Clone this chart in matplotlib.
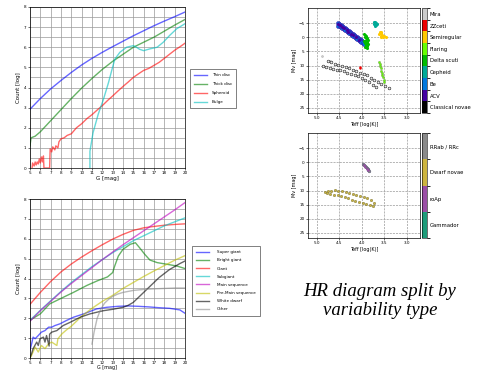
import numpy as np
import matplotlib
matplotlib.use("Agg")
import matplotlib.pyplot as plt
from matplotlib.colors import ListedColormap, BoundaryNorm
import matplotlib.colorbar as mcolorbar

# ---------------- data: top-left (galactic populations) ----------------
thin_g = [5, 6, 7, 8, 9, 10, 11, 12, 13, 14, 15, 16, 17, 18, 19, 20]
thin_v = [2.92, 3.45, 3.93, 4.35, 4.75, 5.12, 5.45, 5.75, 6.03, 6.3, 6.57, 6.82, 7.07, 7.3, 7.52, 7.75]

thick_g = [5.0, 5.1, 5.5, 6, 7, 8, 9, 10, 11, 12, 13, 14, 15, 16, 17, 18, 19, 20]
thick_v = [1.1, 1.5, 1.58, 1.8, 2.35, 2.9, 3.45, 3.97, 4.45, 4.9, 5.3, 5.65, 6.0, 6.25, 6.5, 6.8, 7.1, 7.38]

sph_g = [5.2, 5.25, 5.4, 5.5, 5.6, 5.7, 5.8, 5.9, 6.0, 6.1, 6.2, 6.3, 6.35, 6.9, 6.95, 7.1, 7.2,
         7.4, 7.5, 7.7, 7.8, 8.0, 8.3, 8.6, 9.0, 9.5, 10.0, 10.5, 11.0, 11.5, 12.0, 12.5, 13.0,
         13.5, 14.0, 14.5, 15.0, 15.5, 16.0, 16.5, 17.0, 17.5, 18.0, 18.5, 19.0, 19.5, 20.0]
sph_v = [0.0, 0.25, 0.1, 0.3, 0.15, 0.3, 0.2, 0.45, 0.25, 0.55, 0.3, 0.6, 0.0, 0.0, 0.95, 0.8, 1.05,
         0.9, 1.1, 1.0, 1.3, 1.45, 1.5, 1.62, 1.7, 2.0, 2.2, 2.45, 2.65, 2.88, 3.1, 3.35, 3.58,
         3.82, 4.05, 4.27, 4.5, 4.68, 4.85, 4.95, 5.1, 5.25, 5.45, 5.65, 5.85, 6.02, 6.2]

bulge_g = [10.8, 10.8, 11.1, 11.6, 12.1, 12.6, 12.9, 13.2, 13.7, 14.35, 15.0, 15.3, 15.6, 16.0,
           16.6, 17.3, 17.9, 18.5, 19.2, 20.0]
bulge_v = [0.0, 0.83, 1.75, 2.67, 3.4, 4.25, 4.83, 5.4, 5.75, 6.0, 6.08, 6.0, 5.9, 5.83,
           5.92, 6.0, 6.25, 6.58, 6.92, 7.17]

pop_labels = ["Thin disc", "Thick disc", "Spheroid", "Bulge"]

# ---------------- data: bottom-left (luminosity classes) ----------------
sg_g = [5.0, 5.16, 5.3, 5.5, 5.8, 6.1, 6.45, 6.8, 7.1, 7.4, 7.9, 8.5, 9.2, 10.2, 11.45, 12.4,
        13.5, 14.5, 15.5, 16.5, 17.5, 18.5, 19.5, 20.0]
sg_v = [0.4, 0.72, 1.05, 0.97, 1.13, 1.3, 1.38, 1.55, 1.55, 1.63, 1.72, 1.88, 2.05, 2.22, 2.47, 2.55,
        2.6, 2.62, 2.6, 2.57, 2.53, 2.5, 2.42, 2.25]

bg_g = [5.0, 6.0, 6.9, 8.2, 9.2, 10.5, 11.5, 12.5, 13.0, 13.2, 13.55, 14.0, 14.7, 15.2, 15.6,
        16.1, 16.6, 17.3, 18.2, 19.2, 20.0]
bg_v = [1.9, 2.22, 2.72, 3.05, 3.3, 3.65, 3.88, 4.08, 4.3, 4.63, 5.13, 5.47, 5.72, 5.8, 5.55,
        5.22, 4.93, 4.8, 4.72, 4.63, 4.5]

giant_g = [5, 6, 7, 8, 9, 10, 11, 12, 13, 14, 15, 16, 17, 18, 19, 20]
giant_v = [2.7, 3.3, 3.85, 4.33, 4.73, 5.08, 5.4, 5.7, 5.98, 6.22, 6.42, 6.55, 6.62, 6.68, 6.72, 6.75]

sub_g = [5, 6, 7, 8, 9, 10, 11, 12, 13, 14, 15, 16, 17, 18, 19, 20]
sub_v = [1.9, 2.4, 2.88, 3.35, 3.8, 4.2, 4.6, 4.95, 5.3, 5.6, 5.9, 6.15, 6.4, 6.65, 6.85, 7.05]

ms_g = [5, 6, 7, 8, 9, 10, 11, 12, 13, 14, 15, 16, 17, 18, 19, 20]
ms_v = [1.85, 2.38, 2.85, 3.32, 3.75, 4.15, 4.55, 4.95, 5.33, 5.7, 6.05, 6.4, 6.75, 7.1, 7.45, 7.82]

pms_g = [5.0, 5.15, 5.5, 5.8, 6.1, 6.45, 6.8, 7.1, 7.6, 7.7, 8.1, 8.5, 9, 9.5, 10, 11, 12, 13,
         14, 15, 16, 17, 18, 19, 20]
pms_v = [0.0, 0.13, 0.55, 0.3, 0.63, 0.47, 0.72, 0.8, 0.63, 0.97, 1.22, 1.4, 1.6, 1.85, 2.1, 2.5,
         2.85, 3.15, 3.5, 3.8, 4.1, 4.38, 4.65, 4.92, 5.15]

wd_g = [5.0, 5.15, 5.3, 5.65, 5.8, 5.97, 6.3, 6.45, 6.6, 6.85, 6.9, 7.1, 7.6, 8.2, 8.9, 9.85,
        10.8, 12.1, 13.0, 14.0, 14.5, 15.0, 15.5, 16.0, 16.5, 17.0, 17.5, 18.0, 18.5, 19.0, 19.5, 20.0]
wd_v = [0.0, 0.22, 0.47, 0.8, 0.63, 0.97, 1.05, 0.8, 1.13, 0.6, 1.2, 1.3, 1.38, 1.63, 1.8, 2.05,
        2.22, 2.38, 2.45, 2.55, 2.65, 2.8, 3.05, 3.3, 3.55, 3.8, 4.05, 4.25, 4.45, 4.6, 4.75, 4.88]

oth_g = [11.0, 11.2, 11.5, 11.8, 12.2, 12.6, 13.0, 13.5, 14, 15, 16, 17, 18, 19, 20]
oth_v = [0.7, 1.3, 2.0, 2.4, 2.75, 2.95, 3.1, 3.22, 3.3, 3.4, 3.45, 3.48, 3.5, 3.52, 3.52]

cls_labels = ["Super giant", "Bright giant", "Giant", "Subgiant", "Main sequence",
              "Pre-Main sequence", "White dwarf", "Other"]

# ---------------- data: top-right HR diagram ----------------
var1_labels = ["Classical novae", "ACV", "Be", "Cepheid", "Delta scuti", "Flaring",
               "Semiregular", "ZZceti", "Mira"]

be_teff = [4.53, 4.50, 4.47, 4.44, 4.41, 4.38, 4.35, 4.32, 4.29, 4.26, 4.23, 4.20, 4.17, 4.14,
           4.11, 4.08, 4.05, 4.02, 3.99, 3.96,
           4.52, 4.49, 4.46, 4.43, 4.40, 4.37, 4.34, 4.31, 4.28, 4.25, 4.22, 4.19, 4.16, 4.13,
           4.10, 4.07, 4.04, 4.01, 3.98, 3.95]
be_mv = [-5.0, -4.7, -4.4, -4.0, -3.7, -3.3, -3.0, -2.6, -2.3, -1.9, -1.6, -1.2, -0.9, -0.5,
         -0.2, 0.2, 0.5, 0.9, 1.2, 1.6,
         -4.2, -3.9, -3.6, -3.2, -2.9, -2.5, -2.2, -1.8, -1.5, -1.1, -0.8, -0.4, -0.1, 0.3,
         0.6, 1.0, 1.3, 1.7, 2.1, 2.5]
acv_teff = [4.52, 4.48, 4.45, 4.40, 4.34, 4.30, 4.24, 4.20, 4.12, 4.06]
acv_mv = [-4.6, -4.3, -3.8, -3.3, -2.5, -2.0, -1.3, -0.9, 0.0, 0.8]
ds_teff = [3.95, 3.92, 3.90, 3.93, 3.89, 3.91, 3.87, 3.94, 3.88, 3.92, 3.86, 3.90, 3.88, 3.93, 3.89]
ds_mv = [-1.2, -1.0, -0.6, 0.0, 0.3, 0.8, 1.0, 1.3, 1.6, 2.0, 2.2, 2.6, 3.0, 3.3, 3.8]
ceph_teff = [3.72, 3.70, 3.68, 3.71, 3.69, 3.73, 3.67, 3.70]
ceph_mv = [-5.3, -5.5, -5.0, -4.6, -4.3, -4.9, -4.7, -4.0]
sr_teff = [3.60, 3.58, 3.56, 3.55, 3.58, 3.53, 3.61, 3.56, 3.50, 3.47]
sr_mv = [-2.0, -1.5, -1.8, -1.0, -0.6, -0.3, -1.2, -0.2, -0.4, -0.3]
fl_teff = [3.61, 3.60, 3.59, 3.58, 3.57, 3.55, 3.54, 3.53, 3.51, 3.50]
fl_mv = [8.8, 9.5, 10.3, 11.0, 11.8, 12.6, 13.4, 14.2, 15.0, 15.7]
zz_teff = [4.05, 4.03]
zz_mv = [10.6, 10.9]
mira_teff = [4.89, 4.70]
mira_mv = [6.5, 8.3]
cn_teff = [4.76, 4.68, 4.60, 4.52, 4.44, 4.36, 4.28, 4.20, 4.12, 4.04, 3.96, 3.88, 3.80, 3.72,
           3.64, 3.56, 3.48, 3.40,
           4.87, 4.80, 4.72, 4.64, 4.56, 4.48, 4.40, 4.32, 4.24, 4.16, 4.08, 4.00, 3.92, 3.84,
           3.76, 3.68]
cn_mv = [8.2, 8.8, 9.3, 9.8, 10.2, 10.6, 11.0, 11.5, 12.0, 12.5, 13.0, 13.5, 14.3, 15.0,
         15.7, 16.5, 17.2, 17.8,
         10.0, 10.4, 10.8, 11.1, 11.4, 11.7, 12.0, 12.5, 12.9, 13.3, 13.8, 14.4, 15.1, 15.9,
         16.8, 17.6]

# ---------------- data: bottom-right HR diagram ----------------
var2_labels = ["Gammador", "roAp", "Dwarf novae", "RRab / RRc"]
var2_colors = ["#1e9c7a", "#9b4fa6", "#cdb540", "#8a8a8a"]

rr_teff = [3.97, 3.95, 3.93, 3.91, 3.89, 3.87, 3.85, 3.83]
rr_mv = [0.6, 1.0, 1.3, 1.7, 2.0, 2.4, 2.7, 3.1]
roap_teff = [3.96, 3.92, 3.88, 3.85]
roap_mv = [0.9, 1.5, 2.2, 2.8]
dn_teff = [4.82, 4.75, 4.68, 4.60, 4.52, 4.44, 4.36, 4.28, 4.20, 4.12, 4.04, 3.96, 3.88, 3.80, 3.72,
           4.78, 4.70, 4.62, 4.54, 4.46, 4.38, 4.30, 4.22, 4.14, 4.06, 3.98, 3.90, 3.82, 3.75]
dn_mv = [10.5, 10.2, 10.0, 9.9, 10.0, 10.2, 10.5, 10.8, 11.1, 11.5, 11.9, 12.3, 12.8, 13.5, 14.5,
         11.0, 11.2, 11.4, 11.7, 12.0, 12.4, 12.8, 13.2, 13.6, 14.0, 14.4, 14.8, 15.2, 15.5]

# ---------------- figure ----------------
W, H = 485, 371
fig = plt.figure(figsize=(W / 100, H / 100), dpi=100)


def px_axes(x0, y0, x1, y1):
    return fig.add_axes([x0 / W, 1 - y1 / H, (x1 - x0) / W, (y1 - y0) / H])


TICK = dict(labelsize=3, length=1.5, width=0.4, pad=1)


def style_count_axes(ax, xlab_pad=0.5, xlab_size=4):
    ax.set_xlim(5, 20)
    ax.set_ylim(0, 8)
    ax.set_xticks(range(5, 21))
    ax.set_yticks(range(0, 9))
    ax.set_yticks(np.arange(0.5, 8, 1.0), minor=True)
    ax.grid(True, which="both", color="0.6", lw=0.5)
    ax.tick_params(which="major", **TICK)
    ax.tick_params(which="minor", length=0)
    for s in ax.spines.values():
        s.set_linewidth(0.5)
    ax.set_ylabel("Count [log]", fontsize=4, labelpad=2)
    ax.set_xlabel("G [mag]", fontsize=xlab_size, labelpad=xlab_pad)


# top-left
ax1 = px_axes(30, 7, 185, 168)
ax1.plot(thin_g, thin_v, color="b", alpha=0.6, lw=1.0, label=pop_labels[0])
ax1.plot(thick_g, thick_v, color="g", alpha=0.6, lw=1.0, label=pop_labels[1])
ax1.plot(sph_g, sph_v, color="r", alpha=0.6, lw=1.0, label=pop_labels[2])
ax1.plot(bulge_g, bulge_v, color="c", alpha=0.6, lw=1.0, label=pop_labels[3])
style_count_axes(ax1)
leg1 = ax1.legend(loc="upper left", bbox_to_anchor=(188 / W, 1 - 67 / H),
                  bbox_transform=fig.transFigure, fontsize=3, handlelength=3,
                  labelspacing=1.2, borderpad=1.0, handletextpad=1.2, fancybox=False,
                  framealpha=1)
leg1.get_frame().set_linewidth(0.5)
leg1.get_frame().set_edgecolor("0.3")

# bottom-left
ax2 = px_axes(30, 199, 185, 358)
ax2.plot(sg_g, sg_v, color="b", alpha=0.6, lw=1.0, label=cls_labels[0])
ax2.plot(bg_g, bg_v, color="g", alpha=0.6, lw=1.0, label=cls_labels[1])
ax2.plot(giant_g, giant_v, color="r", alpha=0.6, lw=1.0, label=cls_labels[2])
ax2.plot(sub_g, sub_v, color="c", alpha=0.6, lw=1.0, label=cls_labels[3])
ax2.plot(ms_g, ms_v, color="m", alpha=0.6, lw=1.0, label=cls_labels[4])
ax2.plot(pms_g, pms_v, color="y", alpha=0.6, lw=1.0, label=cls_labels[5])
ax2.plot(wd_g, wd_v, color="k", alpha=0.6, lw=1.0, label=cls_labels[6])
ax2.plot(oth_g, oth_v, color="0.55", alpha=0.6, lw=1.0, label=cls_labels[7])
style_count_axes(ax2, xlab_pad=0, xlab_size=3.5)
ax2.tick_params(axis="x", pad=0.5)
leg2 = ax2.legend(loc="upper left", bbox_to_anchor=(190 / W, 1 - 244 / H),
                  bbox_transform=fig.transFigure, fontsize=3, handlelength=3,
                  labelspacing=1.0, borderpad=1.0, handletextpad=2.0, fancybox=False,
                  framealpha=1)
leg2.get_frame().set_linewidth(0.5)
leg2.get_frame().set_edgecolor("0.3")


def style_hr(ax):
    ax.set_xlim(5.2, 2.7)
    ax.set_ylim(26.8, -10.4)
    ax.set_xticks([5.0, 4.5, 4.0, 3.5, 3.0])
    ax.set_xticklabels(["5.0", "4.5", "4.0", "3.5", "3.0"])
    ax.set_yticks([-5, 0, 5, 10, 15, 20, 25])
    ax.grid(True, color="0.6", lw=0.5, ls=(0, (3, 1.5)))
    ax.tick_params(**TICK)
    for s in ax.spines.values():
        s.set_linewidth(0.5)
    ax.set_xlabel("Teff [log(K)]", fontsize=3.5, labelpad=1)
    ax.set_ylabel("Mv [mag]", fontsize=3.5, labelpad=1)


# top-right HR
cmap1 = plt.get_cmap("nipy_spectral")
cols1 = [cmap1(i / 8) for i in range(9)]
ax3 = px_axes(308, 8, 420, 113)
style_hr(ax3)
ax3.scatter(mira_teff, mira_mv, s=2, color=cols1[8], edgecolors="0.5", lw=0.2, zorder=3)
ax3.scatter(cn_teff, cn_mv, s=4, facecolor="0.92", edgecolors="k", lw=0.35, zorder=3)
ax3.scatter(be_teff, be_mv, s=9, color=cols1[2], edgecolors=cols1[1], lw=0.3, zorder=3)
ax3.scatter(acv_teff, acv_mv, s=5, color=cols1[1], lw=0, zorder=4)
ax3.scatter(ds_teff, ds_mv, s=5, color=cols1[4], lw=0, zorder=4)
ax3.scatter(ceph_teff, ceph_mv, s=5, color=cols1[3], lw=0, zorder=4)
ax3.scatter(sr_teff, sr_mv, s=5, color=cols1[6], lw=0, zorder=4)
ax3.scatter(fl_teff, fl_mv, s=3, color=cols1[5], edgecolors="0.4", lw=0.2, zorder=4)
ax3.scatter(zz_teff, zz_mv, s=3, color=cols1[7], lw=0, zorder=4)

cax1 = px_axes(422, 8, 427, 113)
cm1 = ListedColormap(cols1)
nm1 = BoundaryNorm(np.arange(-0.5, 9.5, 1), 9)
cb1 = mcolorbar.ColorbarBase(cax1, cmap=cm1, norm=nm1, ticks=range(9))
cb1.set_ticklabels(var1_labels)
cb1.ax.tick_params(labelsize=3.8, length=0, pad=2)
cb1.outline.set_linewidth(0.4)

# bottom-right HR
ax4 = px_axes(308, 133, 420, 238)
style_hr(ax4)
ax4.scatter(dn_teff, dn_mv, s=3, color=var2_colors[2], edgecolors="#6b6420", lw=0.3, zorder=3)
ax4.scatter(rr_teff, rr_mv, s=4, color=var2_colors[3], edgecolors="#444466", lw=0.3, zorder=3)
ax4.scatter(roap_teff, roap_mv, s=3, color=var2_colors[1], lw=0, zorder=4)

cax2 = px_axes(422, 133, 427, 238)
cm2 = ListedColormap(var2_colors)
nm2 = BoundaryNorm(np.arange(-0.5, 4.5, 1), 4)
cb2 = mcolorbar.ColorbarBase(cax2, cmap=cm2, norm=nm2, ticks=range(4))
cb2.set_ticklabels(var2_labels)
cb2.ax.tick_params(labelsize=3.8, length=0, pad=2)
cb2.outline.set_linewidth(0.4)

# caption
fig.text(380 / W, 1 - 301 / H, "HR diagram split by\nvariability type", ha="center",
         va="center", fontsize=13.5, style="italic", family="Liberation Serif",
         linespacing=1.15)

fig.savefig("out.png", dpi=100)
